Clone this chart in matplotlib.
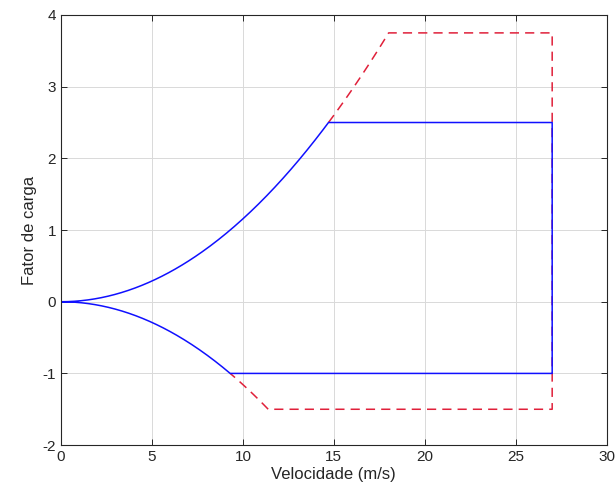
import numpy as np
import matplotlib
matplotlib.use("Agg")
import matplotlib.pyplot as plt

plt.rcParams['font.family'] = ['Liberation Sans', 'DejaVu Sans']
plt.rcParams['axes.unicode_minus'] = False

# Flight envelope parameters
v_stall = 9.3          # speed (m/s) at which n = 1
n_pos_limit = 2.5      # positive limit load factor
n_neg_limit = -1.0     # negative limit load factor
safety_factor = 1.5    # ultimate / limit
v_dive = 27.0          # dive speed (m/s)

n_pos_ult = n_pos_limit * safety_factor
n_neg_ult = n_neg_limit * safety_factor


def stall_speed(n):
    return v_stall * np.sqrt(abs(n))


def stall_curve(v):
    return (v / v_stall) ** 2


# Limit envelope (blue)
vA = stall_speed(n_pos_limit)
vG = stall_speed(n_neg_limit)
v_up = np.linspace(0, vA, 200)
v_dn = np.linspace(0, vG, 200)

lim_v = np.concatenate([v_up, [v_dive, v_dive], [vG], v_dn[::-1]])
lim_n = np.concatenate([stall_curve(v_up), [n_pos_limit, n_neg_limit],
                        [n_neg_limit], -stall_curve(v_dn[::-1])])

# Ultimate envelope (red dashed)
vA_u = stall_speed(n_pos_ult)
vG_u = stall_speed(n_neg_ult)
v_up_u = np.linspace(vA, vA_u, 60)
v_dn_u = np.linspace(vG, vG_u, 60)
ult_v = np.concatenate([v_up_u, [v_dive, v_dive], v_dn_u[::-1]])
ult_n = np.concatenate([stall_curve(v_up_u), [n_pos_ult, n_neg_ult],
                        -stall_curve(v_dn_u[::-1])])

fig = plt.figure(figsize=(6.16, 4.99), dpi=100)
ax = fig.add_axes([0.099, 0.108, 0.886, 0.862])

ax.plot(ult_v, ult_n, color='#e0203a', linestyle=(0, (6, 4)), linewidth=1.1)
ax.plot(lim_v, lim_n, color='#1010ff', linewidth=1.1)

ax.set_xlim(0, 30)
ax.set_ylim(-2, 4)
ax.set_xticks(np.arange(0, 31, 5))
ax.set_yticks(np.arange(-2, 5, 1))
ax.grid(True, color='#d9d9d9', linewidth=0.7)
ax.set_axisbelow(True)
ax.tick_params(direction='in', top=True, right=True, labelsize=11,
               colors='#262626', length=4, width=0.7)
for s in ax.spines.values():
    s.set_color('#262626')
    s.set_linewidth(0.8)

ax.set_xlabel('Velocidade (m/s)', fontsize=12, color='#262626', labelpad=2)
ax.set_ylabel('Fator de carga', fontsize=12, color='#262626', labelpad=4)

fig.savefig('out.png', dpi=100)
